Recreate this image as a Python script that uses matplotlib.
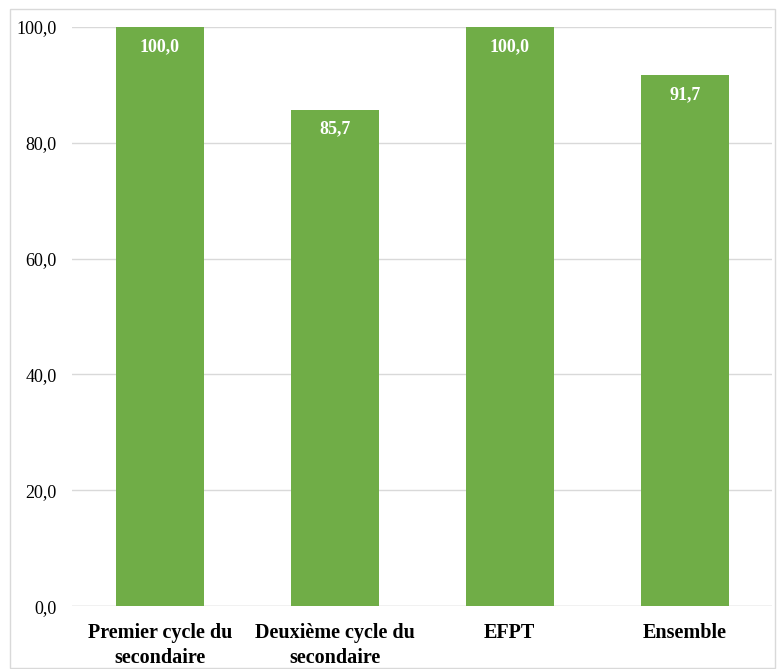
import numpy as np
import matplotlib.pyplot as plt
from matplotlib.patches import Rectangle

categories = ['Premier cycle du\nsecondaire', 'Deuxième cycle du\nsecondaire', 'EFPT', 'Ensemble']
values = [100.0, 85.7, 100.0, 91.7]
yticks = [0, 20, 40, 60, 80, 100]

plt.rcParams['font.family'] = ['Liberation Serif', 'DejaVu Serif']

fig = plt.figure(figsize=(7.77, 6.69), dpi=100)
ax = fig.add_axes([0.093, 0.094, 0.901, 0.866])

x = np.arange(len(categories))
bars = ax.bar(x, values, width=0.5, color='#70AD47', zorder=2)

for xi, v in zip(x, values):
    ax.annotate(f'{v:.1f}'.replace('.', ','), (xi, v), xytext=(0, -8),
                textcoords='offset points', ha='center', va='top',
                color='white', fontweight='bold', fontsize=13)

ax.set_xlim(-0.5, len(categories) - 0.5)
ax.set_ylim(0, 100)
ax.set_yticks(yticks)
ax.set_yticklabels([f'{t:.1f}'.replace('.', ',') for t in yticks], fontsize=13)
ax.set_xticks(x)
ax.set_xticklabels(categories, fontsize=14.5, fontweight='bold', linespacing=1.35)
ax.tick_params(axis='both', length=0)
ax.tick_params(axis='y', pad=11)
ax.tick_params(axis='x', pad=12)
ax.grid(axis='y', color='#D9D9D9', linewidth=1, zorder=0)
for s in ax.spines.values():
    s.set_visible(False)
ax.axhline(0, color='#D9D9D9', linewidth=1, zorder=1)

fig.patches.append(Rectangle((10 / 777, 0.001), 0.985, 1 - 9 / 669 - 0.001,
                             transform=fig.transFigure, fill=False,
                             edgecolor='#D9D9D9', linewidth=1))

fig.savefig('out.png', dpi=100)
